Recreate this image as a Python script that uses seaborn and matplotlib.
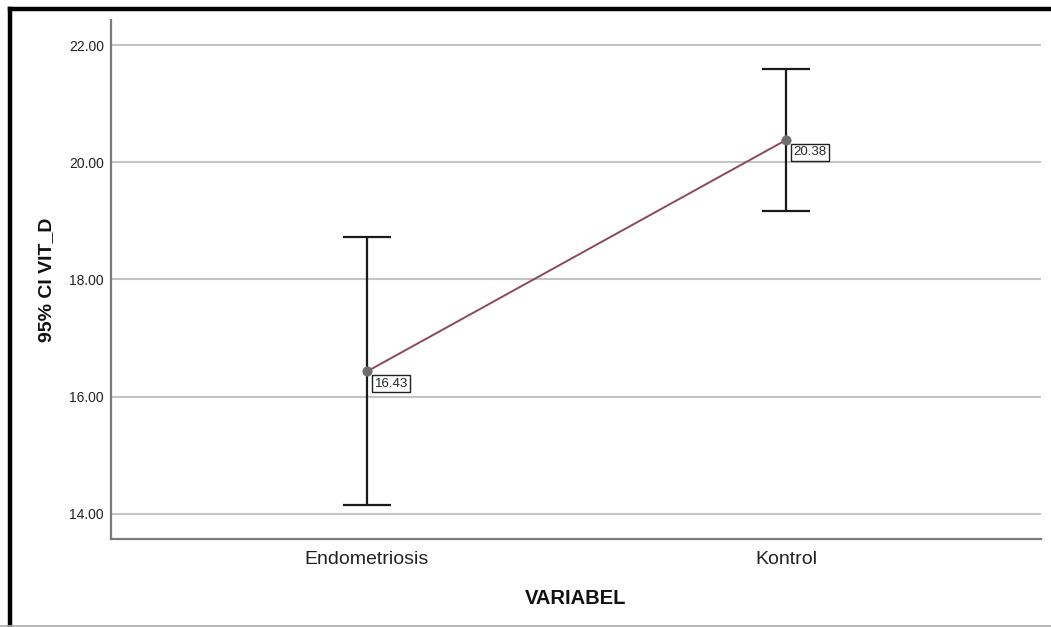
import matplotlib
matplotlib.use("Agg")
import matplotlib.pyplot as plt
import seaborn as sns
import pandas as pd
from matplotlib.lines import Line2D

groups = ["Endometriosis", "Kontrol"]
means = [16.43, 20.38]
ci_low = [14.15, 19.17]
ci_high = [18.72, 21.59]
yticks = [14, 16, 18, 20, 22]
ytick_labels = ["14.00", "16.00", "18.00", "20.00", "22.00"]

df = pd.DataFrame({"VARIABEL": groups, "mean": means, "lo": ci_low, "hi": ci_high})

sns.set_style("white")
plt.rcParams["font.family"] = ["Liberation Sans", "DejaVu Sans"]

fig = plt.figure(figsize=(10.51, 6.27), dpi=100)
ax = fig.add_axes([111/1051, 1-539/627, (1041-111)/1051, (539-20)/627])

for y in yticks:
    ax.axhline(y, color="#c4c4c4", lw=1.5, zorder=0)

sns.lineplot(data=df, x="VARIABEL", y="mean", ax=ax, color="#8c4a58", lw=1.4,
             sort=False, zorder=2)
xs = list(range(len(groups)))
lo_err = [m - l for m, l in zip(means, ci_low)]
hi_err = [h - m for m, h in zip(means, ci_high)]
ax.errorbar(xs, means, yerr=[lo_err, hi_err], fmt="none", ecolor="#1a1a1a",
            elinewidth=1.6, capsize=17, capthick=1.6, zorder=3)
sns.scatterplot(data=df, x="VARIABEL", y="mean", ax=ax, color="#6e6e6e", s=45,
                edgecolor="#6e6e6e", zorder=4)

for x, m in zip(xs, means):
    ax.annotate(f"{m:.2f}", (x, m), xytext=(5.5, -4.5), textcoords="offset points",
                ha="left", va="top", fontsize=9.5,
                bbox=dict(boxstyle="square,pad=0.2", fc="white", ec="#222222", lw=1.0),
                zorder=5)

ax.set_xlim(-0.611, 1.609)
ax.set_ylim(13.57, 22.43)
ax.set_yticks(yticks)
ax.set_yticklabels(ytick_labels, fontsize=10, color="#222222")
ax.set_xticks(xs)
ax.set_xticklabels(groups, fontsize=14, color="#222222")
ax.tick_params(axis="both", length=0, pad=5)
ax.tick_params(axis="x", pad=9)
ax.set_xlabel("VARIABEL", fontsize=14.5, fontweight="bold", labelpad=15, color="#111111")
ax.set_ylabel("95% CI VIT_D", fontsize=14, fontweight="bold", labelpad=10, color="#111111")
for s in ["top", "right"]:
    ax.spines[s].set_visible(False)
for s in ["left", "bottom"]:
    ax.spines[s].set_color("#7a7a7a")
    ax.spines[s].set_linewidth(1.6)

# outer frame of the picture (left and top black, bottom thin grey)
W, H = 1051, 627
fig.add_artist(Line2D([9.5/W, 9.5/W], [0, 1-8.5/H], transform=fig.transFigure,
                      color="black", lw=3.2, solid_capstyle="projecting"))
fig.add_artist(Line2D([9.5/W, 1], [1-8.5/H, 1-8.5/H], transform=fig.transFigure,
                      color="black", lw=3.2, solid_capstyle="projecting"))
fig.add_artist(Line2D([0, 1], [0.8/H, 0.8/H], transform=fig.transFigure,
                      color="#aaaaaa", lw=1.2))

fig.savefig("out.png", dpi=100, facecolor="white")
